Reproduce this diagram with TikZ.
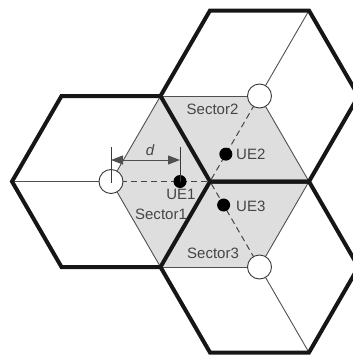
\documentclass[tikz,border=0pt]{standalone}
\usepackage{fontspec}
\setmainfont{Liberation Sans}
\usetikzlibrary{arrows.meta,calc}
\definecolor{edgeblack}{HTML}{161616}
\definecolor{sectorgray}{HTML}{DEDEDE}
\definecolor{spokegray}{HTML}{505050}
\definecolor{labelgray}{HTML}{454545}
\tikzset{
  cellborder/.style={draw=edgeblack,line width=4pt,line join=miter},
  spoke/.style={draw=spokegray,line width=0.9pt},
  sectorfill/.style={fill=sectorgray,draw=none},
  losline/.style={draw=edgeblack!80,line width=1pt,dash pattern=on 6pt off 4pt},
  basestation/.style={circle,draw=edgeblack!85,line width=0.9pt,fill=white,minimum size=24pt,inner sep=0pt},
  ue/.style={circle,fill=black,minimum size=13pt,inner sep=0pt},
  lbl/.style={text=labelgray,font=\fontsize{15}{17}\selectfont,inner sep=0pt},
  dimtick/.style={draw=edgeblack!85,line width=0.9pt},
  dimarrow/.style={draw=spokegray,line width=0.9pt,{Triangle[length=12pt,width=9pt]}-{Triangle[length=12pt,width=9pt]}}
}
\begin{document}
\begin{tikzpicture}[x=1pt,y=-1pt]
\useasboundingbox (0,0) rectangle (353,356);
\clip (0,0) rectangle (353,356);

% cell centres and the common corner of the three sectors
\coordinate (C1) at (111,181.5);
\coordinate (C2) at (259.5,96);
\coordinate (C3) at (259.5,267);
\coordinate (P)  at (210,181.5);

% hexagon corners
\coordinate (A1) at (12,181.5);
\coordinate (A2) at (61.5,96);
\coordinate (A3) at (160.5,96);
\coordinate (A4) at (160.5,267);
\coordinate (A5) at (61.5,267);
\coordinate (B1) at (210,10.5);
\coordinate (B2) at (309,10.5);
\coordinate (B3) at (358.5,96);
\coordinate (B4) at (309,181.5);
\coordinate (D1) at (358.5,267);
\coordinate (D2) at (309,352.5);
\coordinate (D3) at (210,352.5);

% shaded sectors facing the common corner
\fill[sectorgray] (C1) -- (A3) -- (P) -- (A4) -- cycle;
\fill[sectorgray] (C2) -- (A3) -- (P) -- (B4) -- cycle;
\fill[sectorgray] (C3) -- (B4) -- (P) -- (A4) -- cycle;

% sector boundaries inside each cell
\draw[spoke] (C1) -- (A1);
\draw[spoke] (C1) -- (A3);
\draw[spoke] (C1) -- (A4);
\draw[spoke] (C2) -- (B2);
\draw[spoke] (C2) -- (A3);
\draw[spoke] (C2) -- (B4);
\draw[spoke] (C3) -- (B4);
\draw[spoke] (C3) -- (A4);
\draw[spoke] (C3) -- (D2);

% lines of sight towards the common corner
\draw[losline] (C1) -- (P);
\draw[losline] (C2) -- (P);
\draw[losline] (C3) -- (P);

% cell borders
\draw[cellborder] (A1) -- (A2) -- (A3) -- (P) -- (A4) -- (A5) -- cycle;
\draw[cellborder] (A3) -- (B1) -- (B2) -- (B3) -- (B4) -- (P);
\draw[cellborder] (P) -- (B4) -- (D1) -- (D2) -- (D3) -- (A4);

% base stations
\node[basestation] (bs1) at (C1) {};
\node[basestation] (bs2) at (C2) {};
\node[basestation] (bs3) at (C3) {};

% user equipments
\node[ue] (ue1) at (180,181.5) {};
\node[ue] (ue2) at ($(P)!0.32!(C2)$) {};
\node[ue] (ue3) at ($(P)!0.275!(C3)$) {};

% distance d between base station and UE1
\coordinate (t1top) at (111,147);
\coordinate (t1bot) at (111,183);
\coordinate (t2top) at (180,147);
\draw[dimtick] (t1top) -- (t1bot);
\draw[dimtick] (t2top) -- (ue1.center);
\coordinate (d1) at (111,160);
\coordinate (d2) at (180,160);
\draw[dimarrow] (d1) -- (d2);
\node[lbl,font=\fontsize{15}{17}\selectfont\itshape] (dlbl) at (150,150) {d};

% labels
\node[lbl] (s1lbl) at (161,214) {Sector1};
\node[lbl] (s2lbl) at (212.5,109) {Sector2};
\node[lbl] (s3lbl) at (213,253) {Sector3};
\node[lbl] (ue1lbl) at (181,194) {UE1};
\node[lbl,anchor=west] (ue2lbl) at (236,154) {UE2};
\node[lbl,anchor=west] (ue3lbl) at (236,206) {UE3};
\end{tikzpicture}
\end{document}
